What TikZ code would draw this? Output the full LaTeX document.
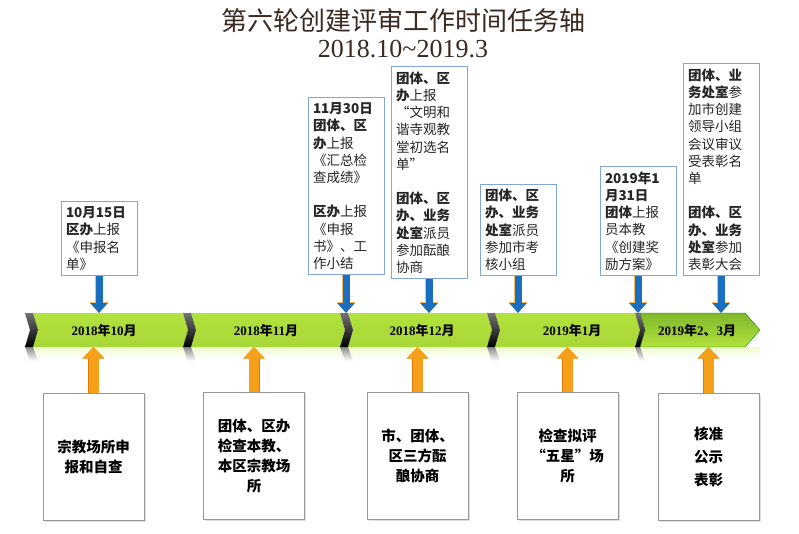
\documentclass[tikz,border=0pt]{standalone}
\usepackage{fontspec}
\setmainfont{Liberation Serif}
\newfontfamily\cjk{Noto Sans CJK SC}
\usetikzlibrary{arrows.meta, positioning, shadows, calc}
\newcommand\ymlabel[2]{\textbf{#1{\cjk 年}#2{\cjk 月}}}
\newcommand\fq[1]{{\addfontfeature{CharacterWidth=Full}#1}}

\begin{document}
\begin{tikzpicture}[x=1pt, y=-1pt,
    ubox/.style={draw=uline, line width=0.9pt, fill=white, text width=66pt, inner sep=5pt,
        align=left, anchor=south, text=black!85, font=\cjk\fontsize{13.5}{17.2}\selectfont},
    lbox/.style={draw=lline, line width=0.9pt, fill=white, minimum width=101pt, minimum height=127pt,
        anchor=north, align=center, font=\cjk\bfseries\fontsize{14.5}{20}\selectfont,
        drop shadow={opacity=0.25, shadow xshift=1.5pt, shadow yshift=-2pt}},
    mlabel/.style={font=\fontsize{13}{15}\selectfont},
    downarr/.style={draw=arrblue, line width=7pt, -{Triangle[width=17pt, length=10pt]},
        preaction={draw=arrorange!70, line width=8.5pt, -{Triangle[width=18.5pt, length=11pt]}}},
    uparr/.style={draw=arrorange, line width=10pt, -{Triangle[width=20pt, length=11pt]},
        preaction={draw=arrdark, line width=11pt, -{Triangle[width=21pt, length=11.5pt]}}}
]

    % --- DEFINITIONS ---
    \definecolor{titlec}{RGB}{59, 42, 32}    % dark brown
    \definecolor{uline}{RGB}{127, 167, 217}  % light blue border
    \definecolor{lline}{RGB}{150, 150, 150}  % grey border
    \definecolor{arrblue}{RGB}{26, 110, 190}
    \definecolor{arrorange}{RGB}{246, 160, 26}
    \definecolor{arrdark}{RGB}{224, 120, 10}
    \definecolor{lmA}{RGB}{178, 226, 60}
    \definecolor{lmB}{RGB}{210, 245, 125}
    \definecolor{lmC}{RGB}{168, 214, 56}

    \fill[white] (0,0) rectangle (799,533);
    \useasboundingbox (0,0) rectangle (799,533);

    % --- TITLE ---
    \node[font=\cjk\fontsize{26}{30}\selectfont, text=titlec] (title) at (403,21) {第六轮创建评审工作时间任务轴};
    \node[font=\fontsize{26}{30}\selectfont, text=titlec] (subtitle) at (403,49) {2018.10\textasciitilde2019.3};

    % --- TIME BAND ---
    \coordinate (bandtop) at (0,313);
    \coordinate (bandbot) at (0,347);

    % reflection below the band
    \shade[top color=lmB!40, bottom color=white] (33,347) rectangle (760,358);
    \foreach \cx/\cw in {25/8,183/8,340/8,487/8,635/5}
        \shade[top color=black!45, bottom color=white]
            (\cx,347) -- ++(\cw,0) -- ++(5,14) -- ++(-\cw,0) -- cycle;

    % green segments
    \foreach \a/\b in {33/183,191/340,348/487,495/635}
        \shade[top color=lmA, middle color=lmB, bottom color=lmC]
            (\a,313) -- (\b,313) -- (\b+5,330) -- (\b,347) -- (\a,347) -- (\a+5,330) -- cycle;
    \shade[top color=lmA!90!green!80!black, middle color=lmB, bottom color=lmA, draw=green!55!black]
        (640,313) -- (745,313) -- (760,330) -- (745,347) -- (640,347) -- (645,330) -- cycle;

    % black chevrons
    \foreach \cx/\cw in {25/8,183/8,340/8,487/8,635/5}
        \shade[top color=black!55, middle color=black!90, bottom color=black]
            (\cx,313) -- ++(\cw,0) -- ++(5,17) -- ++(-5,17) -- ++(-\cw,0) -- ++(5,-17) -- cycle;

    % month labels
    \node[mlabel] (m1) at (104,331) {\ymlabel{2018}{10}};
    \node[mlabel] (m2) at (266,331) {\ymlabel{2018}{11}};
    \node[mlabel] (m3) at (422,331) {\ymlabel{2018}{12}};
    \node[mlabel] (m4) at (572,331) {\ymlabel{2019}{1}};
    \node[mlabel] (m5) at (697,331) {\textbf{2019{\cjk 年}2{\cjk 、}3{\cjk 月}}};

    % --- UPPER BOXES: REPORTS ---
    \node[ubox] (u1) at (99,276) {\textbf{10月15日}\\\textbf{区办}上报\\《申报名\\单》};
    \node[ubox] (u2) at (346,275) {\textbf{11月30日}\\\textbf{团体、区}\\\textbf{办}上报\\《汇总检\\查成绩》\\[17.2pt]
        \textbf{区办}上报\\《申报\\书》、工\\作小结};
    \node[ubox] (u3) at (429,279) {\textbf{团体、区}\\\textbf{办}上报\\\fq{“}文明和\\谐寺观教\\堂初选名\\单\fq{”}\\[17.2pt]
        \textbf{团体、区}\\\textbf{办、业务}\\\textbf{处室}派员\\参加酝酿\\协商};
    \node[ubox] (u4) at (518,276) {\textbf{团体、区}\\\textbf{办、业务}\\\textbf{处室}派员\\参加市考\\核小组};
    \node[ubox] (u5) at (638,276) {\textbf{2019年1}\\\textbf{月31日}\\\textbf{团体}上报\\员本教\\《创建奖\\励方案》};
    \node[ubox] (u6) at (721,276) {\textbf{团体、业}\\\textbf{务处室}参\\加市创建\\领导小组\\会议审议\\受表彰名\\单\\[17.2pt]
        \textbf{团体、区}\\\textbf{办、业务}\\\textbf{处室}参加\\表彰大会};

    % --- LOWER BOXES: STAGES ---
    \node[lbox] (l1) at (93.5,393) {宗教场所申\\报和自查};
    \node[lbox] (l2) at (254,392) {团体、区办\\检查本教、\\本区宗教场\\所};
    \node[lbox] (l3) at (417.5,392) {市、团体、\\区三方酝\\酿协商};
    \node[lbox] (l4) at (567.5,392) {检查拟评\\\fq{“}五星\fq{”}场\\所};
    \node[lbox, font=\cjk\bfseries\fontsize{14.5}{23}\selectfont] (l5) at (708.5,393) {核准\\公示\\表彰};

    % --- CONNECTORS ---
    \foreach \u in {u1,u2,u3,u4,u5,u6}
        \draw[downarr] (\u.south) -- (\u.south |- bandtop);
    \foreach \l in {l1,l2,l3,l4,l5}
        \draw[uparr] (\l.north) -- (\l.north |- bandbot);

\end{tikzpicture}
\end{document}
